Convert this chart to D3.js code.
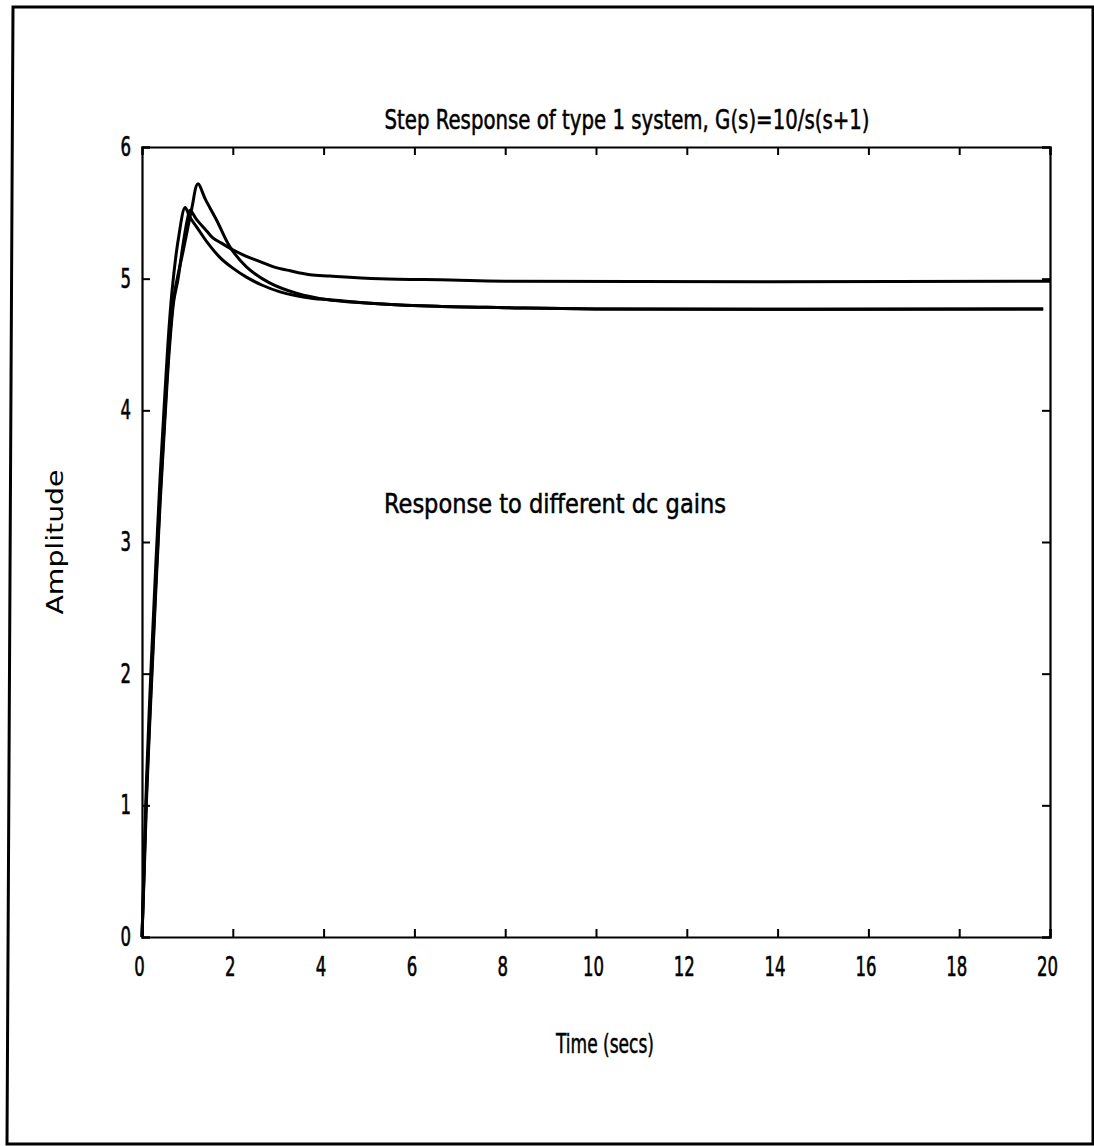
<!DOCTYPE html>
<html>
<head>
<meta charset="utf-8">
<script src="https://cdn.jsdelivr.net/npm/d3@7"></script>
<style>
  html, body { margin: 0; padding: 0; background: #fff; }
  svg { display: block; }
  text { font-family: "DejaVu Sans Condensed", "Liberation Sans Narrow", "Liberation Sans", sans-serif; fill: #000; }
</style>
</head>
<body>
<svg id="chart" width="1094" height="1146"></svg>
<script>
// ---- data ----
const xTicks = [0, 2, 4, 6, 8, 10, 12, 14, 16, 18, 20];
const yTicks = [0, 1, 2, 3, 4, 5, 6];

const timeA  = [0, 0.05, 0.1, 0.2, 0.3, 0.4, 0.5, 0.6, 0.7, 0.8, 0.9, 1.0, 1.1, 1.23, 1.4, 1.65, 1.94, 2.3, 2.8, 3.4, 4.1, 5.2, 6.5, 8, 10, 19.85];
const valueA = [0, 0.55, 1.1, 1.9, 2.65, 3.35, 3.95, 4.5, 4.86, 5.04, 5.2, 5.37, 5.54, 5.72, 5.6, 5.44, 5.24, 5.09, 4.97, 4.89, 4.84, 4.81, 4.79, 4.78, 4.77, 4.77];

const timeB  = [0, 0.05, 0.1, 0.2, 0.3, 0.4, 0.5, 0.6, 0.68, 0.8, 0.95, 1.05, 1.21, 1.45, 1.72, 2.0, 2.31, 2.65, 3.04, 3.4, 3.77, 4.14, 5.2, 6.5, 8, 10, 19.85];
const valueB = [0, 0.6, 1.2, 2.05, 2.8, 3.5, 4.1, 4.65, 4.97, 5.3, 5.54, 5.47, 5.39, 5.27, 5.16, 5.08, 5.01, 4.95, 4.9, 4.87, 4.85, 4.84, 4.81, 4.79, 4.78, 4.77, 4.77];

const timeC  = [0, 0.05, 0.1, 0.2, 0.3, 0.4, 0.5, 0.6, 0.7, 0.79, 0.9, 1.0, 1.06, 1.2, 1.43, 1.56, 1.75, 2.0, 2.3, 2.6, 2.9, 3.26, 3.7, 4.14, 5.24, 6.8, 8, 20];
const valueC = [0, 0.5, 1.05, 1.85, 2.6, 3.3, 3.9, 4.45, 4.83, 4.99, 5.25, 5.45, 5.52, 5.45, 5.36, 5.31, 5.27, 5.22, 5.17, 5.13, 5.09, 5.06, 5.03, 5.02, 5.0, 4.99, 4.98, 4.98];

const titleText = "Step Response of type 1 system, G(s)=10/s(s+1)";
const xLabelText = "Time (secs)";
const yLabelText = "Amplitude";
const noteText = "Response to different dc gains";

// ---- drawing ----
const svg = d3.select("#chart");
const x = d3.scaleLinear().domain([0, 20]).range([142, 1050]);
const y = d3.scaleLinear().domain([0, 6]).range([937, 147]);

// outer frame (slightly skewed like the scan)
svg.append("path")
  .attr("d", "M13,7 L1093,7 L1093,1144 L7,1144 Z")
  .attr("fill", "none").attr("stroke", "#000").attr("stroke-width", 3);

const tickFont = 27;

// bottom axis
const gB = svg.append("g").attr("transform", `translate(0,${y(0)})`)
  .call(d3.axisBottom(x).tickValues(xTicks).tickSize(-8).tickPadding(20).tickFormat(d3.format("d")));
// left axis
const gL = svg.append("g").attr("transform", `translate(${x(0)},0)`)
  .call(d3.axisLeft(y).tickValues(yTicks).tickSize(-8).tickPadding(11).tickFormat(d3.format("d")));
// top axis
const gT = svg.append("g").attr("transform", `translate(0,${y(6)})`)
  .call(d3.axisTop(x).tickValues(xTicks).tickSize(-8).tickFormat(""));
// right axis
const gR = svg.append("g").attr("transform", `translate(${x(20)},0)`)
  .call(d3.axisRight(y).tickValues(yTicks).tickSize(-8).tickFormat(""));

[gB, gL, gT, gR].forEach(g => {
  g.select(".domain").attr("stroke", "#000").attr("stroke-width", 2.2);
  g.selectAll(".tick line").attr("stroke", "#000").attr("stroke-width", 2);
  g.selectAll(".tick text").attr("font-size", tickFont)
    .attr("font-family", "'DejaVu Sans Condensed', sans-serif").attr("fill", "#000")
    .attr("stroke", "#000").attr("stroke-width", 0.6)
    .each(function() {
      const n = this.textContent.length;
      d3.select(this).attr("textLength", n * 10.5).attr("lengthAdjust", "spacingAndGlyphs");
    });
});
gB.selectAll(".tick text").attr("dx", "-3");

const line = d3.line().x(d => x(d[0])).y(d => y(d[1])).curve(d3.curveCatmullRom.alpha(0.5));
const series = [
  d3.zip(timeA, valueA),
  d3.zip(timeB, valueB),
  d3.zip(timeC, valueC)
];
svg.append("g").selectAll("path").data(series).join("path")
  .attr("d", line)
  .attr("fill", "none").attr("stroke", "#000").attr("stroke-width", 3)
  .attr("stroke-linejoin", "round");

// texts
const txtStroke = 0.5;
svg.append("text").attr("x", 627).attr("y", 129).attr("text-anchor", "middle")
  .attr("font-size", 26).attr("textLength", 485).attr("lengthAdjust", "spacingAndGlyphs")
  .attr("stroke", "#000").attr("stroke-width", txtStroke)
  .text(titleText);
svg.append("text").attr("x", 605).attr("y", 1053).attr("text-anchor", "middle")
  .attr("font-size", 26).attr("textLength", 98).attr("lengthAdjust", "spacingAndGlyphs")
  .attr("stroke", "#000").attr("stroke-width", txtStroke)
  .text(xLabelText);
svg.append("text").attr("transform", "translate(63,542) rotate(-90)").attr("text-anchor", "middle")
  .attr("font-size", 23).attr("font-family", "'DejaVu Sans', sans-serif")
  .attr("textLength", 145).attr("lengthAdjust", "spacingAndGlyphs")
  .text(yLabelText);
svg.append("text").attr("x", 555).attr("y", 513).attr("text-anchor", "middle")
  .attr("font-size", 26).attr("textLength", 342).attr("lengthAdjust", "spacingAndGlyphs")
  .attr("stroke", "#000").attr("stroke-width", txtStroke)
  .text(noteText);
</script>
</body>
</html>
